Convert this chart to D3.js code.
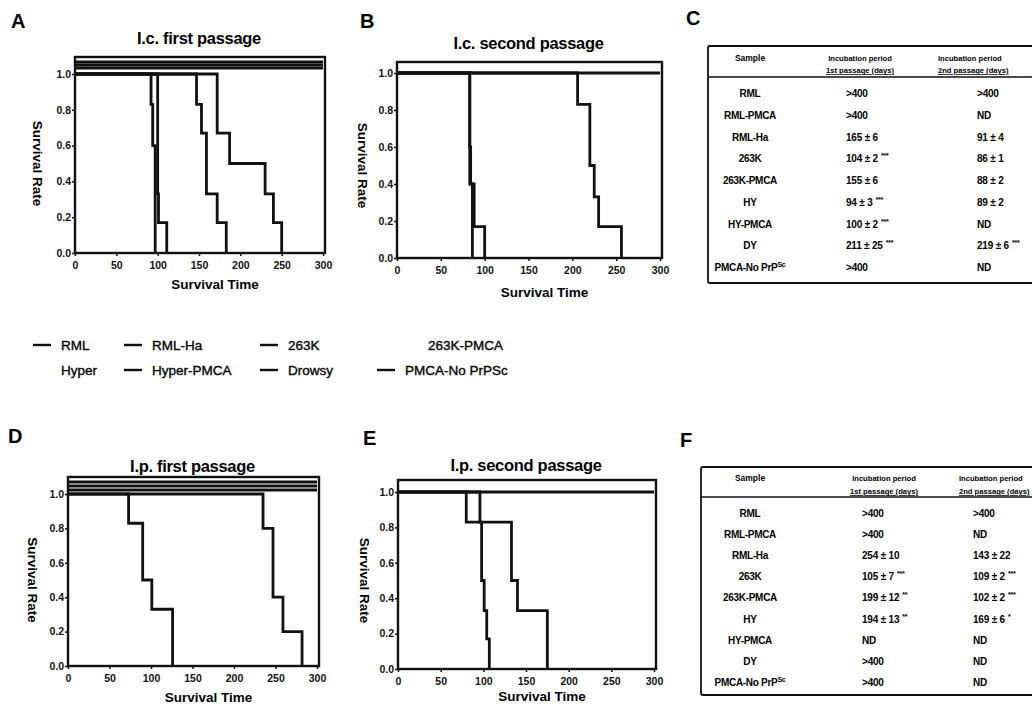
<!DOCTYPE html>
<html lang="en">
<head>
<meta charset="UTF-8"/>
<title>Survival curves and incubation periods</title>
<script src="https://d3js.org/d3.v7.min.js"></script>
<style>
  body { margin: 0; background: #fff; }
  svg { font-family: "Liberation Sans", Arial, sans-serif; }
</style>
</head>
<body>
<script>
var w = 1032;
var h = 706;

// ---- data ----
var xTicks = [0, 50, 100, 150, 200, 250, 300];
var yTicks = [0, 0.2, 0.4, 0.6, 0.8, 1.0];

// survival curves: [day, fraction surviving]
var icFirst = [
    {name: "RML", steps: [[0, 1], [300, 1]]},
    {name: "RML-PMCA", steps: [[0, 1], [300, 1]]},
    {name: "PMCA-No PrPSc", steps: [[0, 1], [300, 1]]},
    {name: "Hyper", steps: [[0, 1], [92, 0.83], [94, 0.6], [97, 0]]},
    {name: "263K", steps: [[0, 1], [100, 0.33], [101, 0.17], [111, 0]]},
    {name: "263K-PMCA", steps: [[0, 1], [147, 0.83], [153, 0.67], [159, 0.33], [172, 0.17], [183, 0]]},
    {name: "Drowsy", steps: [[0, 1], [172, 0.67], [187, 0.5], [230, 0.33], [240, 0.17], [250, 0]]}
];
var icSecond = [
    {name: "RML", steps: [[0, 1], [300, 1]]},
    {name: "263K", steps: [[0, 1], [83, 0.6], [84, 0.4], [86, 0]]},
    {name: "RML-Ha", steps: [[0, 1], [83, 0.4], [88, 0.17], [100, 0]]},
    {name: "Drowsy", steps: [[0, 1], [206, 0.83], [220, 0.5], [225, 0.33], [230, 0.17], [256, 0]]}
];
var ipFirst = [
    {name: "RML", steps: [[0, 1], [300, 1]]},
    {name: "RML-PMCA", steps: [[0, 1], [300, 1]]},
    {name: "Drowsy", steps: [[0, 1], [300, 1]]},
    {name: "263K", steps: [[0, 1], [73, 0.83], [90, 0.5], [101, 0.33], [126, 0]]},
    {name: "RML-Ha", steps: [[0, 1], [235, 0.8], [247, 0.4], [259, 0.2], [282, 0]]}
];
var ipSecond = [
    {name: "RML", steps: [[0, 1], [300, 1]]},
    {name: "RML-Ha", steps: [[0, 1], [80, 0.83], [133, 0.5], [140, 0.33], [175, 0]]},
    {name: "263K", steps: [[0, 1], [96, 0.83], [98, 0.5], [101, 0.33], [104, 0.17], [107, 0]]}
];

var legendNames = ["RML", "RML-Ha", "263K", "263K-PMCA", "Hyper", "Hyper-PMCA", "Drowsy", "PMCA-No PrPSc"];
var legendColors = ["#111", "#111", "#111", "#fff", "#fff", "#111", "#111", "#111"];

var tableSamples = ["RML", "RML-PMCA", "RML-Ha", "263K", "263K-PMCA", "HY", "HY-PMCA", "DY", "PMCA-No PrP"];
var icFirstVals = [">400", ">400", "165 ± 6", "104 ± 2", "155 ± 6", "94 ± 3", "100 ± 2", "211 ± 25", ">400"];
var icFirstStars = ["", "", "", "***", "", "***", "***", "***", ""];
var icSecondVals = [">400", "ND", "91 ± 4", "86 ± 1", "88 ± 2", "89 ± 2", "ND", "219 ± 6", "ND"];
var icSecondStars = ["", "", "", "", "", "", "", "***", ""];
var ipFirstVals = [">400", ">400", "254 ± 10", "105 ± 7", "199 ± 12", "194 ± 13", "ND", ">400", ">400"];
var ipFirstStars = ["", "", "", "***", "**", "**", "", "", ""];
var ipSecondVals = [">400", "ND", "143 ± 22", "109 ± 2", "102 ± 2", "169 ± 6", "ND", "ND", "ND"];
var ipSecondStars = ["", "", "", "***", "***", "*", "", "", ""];

// ---- layout ----
var panels = [
    {letter: "A", lx: 11, ly: 28, title: "I.c. first passage", series: icFirst, offsets: [12, 9, 6],
     x0: 75, x1: 323, yTop: 74, yBot: 253, pad: 17, titleY: 44, timeY: 289, rateX: 38},
    {letter: "B", lx: 360, ly: 28, title: "I.c. second passage", series: icSecond, offsets: [0],
     x0: 397, x1: 660, yTop: 73, yBot: 258, pad: 11, titleY: 49, timeY: 297, rateX: 363},
    {letter: "D", lx: 8, ly: 443, title: "I.p. first passage", series: ipFirst, offsets: [12, 8, 4],
     x0: 68, x1: 317, yTop: 494, yBot: 666, pad: 17, titleY: 472, timeY: 702, rateX: 33},
    {letter: "E", lx: 363, ly: 445, title: "I.p. second passage", series: ipSecond, offsets: [0],
     x0: 398, x1: 654, yTop: 492, yBot: 669, pad: 12, titleY: 471, timeY: 701, rateX: 365}
];

var svg = d3.select("body")
    .append("svg")
    .attr("width", w)
    .attr("height", h);

svg.append("rect").attr("width", w).attr("height", h).attr("fill", "#fff");

var stepLine = d3.line().curve(d3.curveStepAfter);

panels.forEach(function (p) {
    var xScale = d3.scaleLinear().domain([0, 300]).range([p.x0, p.x1]);
    var yScale = d3.scaleLinear().domain([0, 1]).range([p.yBot, p.yTop]);
    var g = svg.append("g");

    // panel letter + title
    g.append("text").attr("x", p.lx).attr("y", p.ly)
        .attr("font-size", "20px").attr("font-weight", "bold").text(p.letter);
    g.append("text").attr("x", (p.x0 + p.x1) / 2).attr("y", p.titleY)
        .attr("text-anchor", "middle").attr("font-size", "16.5px").attr("font-weight", "bold")
        .attr("letter-spacing", "-0.3px")
        .text(p.title);

    // curves
    stepLine.x(function (d) { return xScale(d[0]); })
            .y(function (d) { return yScale(d[1]); });
    g.selectAll("path.curve")
        .data(p.series)
        .enter()
        .append("path")
        .attr("class", "curve")
        .attr("d", function (d) { return stepLine(d.steps); })
        .attr("transform", function (d, i) { return "translate(0," + (-(p.offsets[i] || 0)) + ")"; })
        .attr("fill", "none")
        .attr("stroke", "#111")
        .attr("stroke-width", 2.8);

    // frame
    g.append("rect")
        .attr("x", p.x0).attr("y", p.yTop - p.pad)
        .attr("width", p.x1 - p.x0 + 2).attr("height", p.yBot - p.yTop + p.pad)
        .attr("fill", "none").attr("stroke", "#111").attr("stroke-width", 2.4);

    // axes
    var yAxis = g.append("g")
        .attr("transform", "translate(" + p.x0 + ",0)")
        .call(d3.axisLeft(yScale).tickValues(yTicks).tickFormat(d3.format(".1f")).tickSize(3).tickPadding(1));
    var xAxis = g.append("g")
        .attr("transform", "translate(0," + p.yBot + ")")
        .call(d3.axisBottom(xScale).tickValues(xTicks).tickSize(3).tickPadding(6));
    [yAxis, xAxis].forEach(function (a) {
        a.select(".domain").remove();
        a.selectAll("line").attr("stroke", "#111").attr("stroke-width", 1.5);
        a.selectAll("text").attr("font-size", "10.5px").attr("font-weight", "bold")
            .attr("font-family", "'Liberation Sans', Arial, sans-serif").attr("fill", "#111");
    });

    // axis titles
    g.append("text").attr("x", (p.x0 + p.x1) / 2 + 16).attr("y", p.timeY)
        .attr("text-anchor", "middle").attr("font-size", "13.5px").attr("font-weight", "bold")
        .text("Survival Time");
    g.append("text")
        .attr("transform", "translate(" + p.rateX + "," + ((p.yTop + p.yBot) / 2) + ") rotate(90)")
        .attr("text-anchor", "middle").attr("dy", "0.35em")
        .attr("font-size", "13.5px").attr("font-weight", "bold")
        .text("Survival Rate");
});

// ---- legend ----
var legendCols = [33, 124, 260, 377];
var legendRows = [345, 370];
var legend = svg.append("g");
legendNames.forEach(function (name, i) {
    var cx = legendCols[i % 4];
    var cy = legendRows[Math.floor(i / 4)];
    legend.append("line")
        .attr("x1", cx).attr("x2", cx + 18).attr("y1", cy).attr("y2", cy)
        .attr("stroke", legendColors[i]).attr("stroke-width", 2.4);
    legend.append("text")
        .attr("x", cx + (i === 3 ? 51 : 28)).attr("y", cy + 5)
        .attr("font-size", "13.5px")
        .attr("stroke", "#111").attr("stroke-width", 0.4)
        .text(name);
});

// ---- tables ----
var tables = [
    {letter: "C", lx: 686, ly: 25, left: 708, top: 46, bottom: 283, sep: 77, h1: 61, h2: 73,
     rowY: 97, rowStep: 21.75, sampleX: 750, col2X: 846, col3X: 977, head2X: 860, head3X: 938, head3Anchor: "start",
     first: icFirstVals, firstStars: icFirstStars, second: icSecondVals, secondStars: icSecondStars},
    {letter: "F", lx: 680, ly: 447, left: 701, top: 467, bottom: 695, sep: 497, h1: 481, h2: 494,
     rowY: 517, rowStep: 21.1, sampleX: 750, col2X: 862, col3X: 973, head2X: 884, head3X: 959, head3Anchor: "start",
     first: ipFirstVals, firstStars: ipFirstStars, second: ipSecondVals, secondStars: ipSecondStars}
];

tables.forEach(function (t) {
    var g = svg.append("g").attr("font-weight", "bold");
    g.append("text").attr("x", t.lx).attr("y", t.ly)
        .attr("font-size", "20px").text(t.letter);

    g.append("rect")
        .attr("x", t.left).attr("y", t.top)
        .attr("width", w + 20 - t.left).attr("height", t.bottom - t.top)
        .attr("rx", 2)
        .attr("fill", "none").attr("stroke", "#111").attr("stroke-width", 1.8);
    g.append("line")
        .attr("x1", t.left).attr("x2", w).attr("y1", t.sep).attr("y2", t.sep)
        .attr("stroke", "#111").attr("stroke-width", 1.4);

    // header
    g.append("text").attr("x", t.sampleX).attr("y", t.h1).attr("text-anchor", "middle")
        .attr("font-size", "8.5px").text("Sample");
    [[t.head2X, "middle", "1st passage (days)"], [t.head3X, t.head3Anchor, "2nd passage (days)"]].forEach(function (hd) {
        g.append("text").attr("x", hd[0]).attr("y", t.h1).attr("text-anchor", hd[1])
            .attr("font-size", "7.6px").text("Incubation period");
        g.append("text").attr("x", hd[0]).attr("y", t.h2).attr("text-anchor", hd[1])
            .attr("font-size", "7.6px").attr("text-decoration", "underline").text(hd[2]);
    });

    // rows
    tableSamples.forEach(function (s, i) {
        var y = t.rowY + i * t.rowStep;
        var st = g.append("text").attr("x", t.sampleX).attr("y", y).attr("text-anchor", "middle")
            .attr("font-size", "10px").attr("letter-spacing", "-0.3px").text(s);
        if (i === tableSamples.length - 1) {
            st.append("tspan").attr("dy", -4).attr("font-size", "7px").text("Sc");
        }
        [[t.col2X, t.first[i], t.firstStars[i]], [t.col3X, t.second[i], t.secondStars[i]]].forEach(function (c) {
            var tx = g.append("text").attr("x", c[0]).attr("y", y)
                .attr("font-size", "10px").attr("letter-spacing", "-0.2px").text(c[1]);
            if (c[2]) {
                tx.append("tspan").attr("dx", 3).attr("dy", -4).attr("font-size", "7px").text(c[2]);
            }
        });
    });
});
</script>
</body>
</html>
